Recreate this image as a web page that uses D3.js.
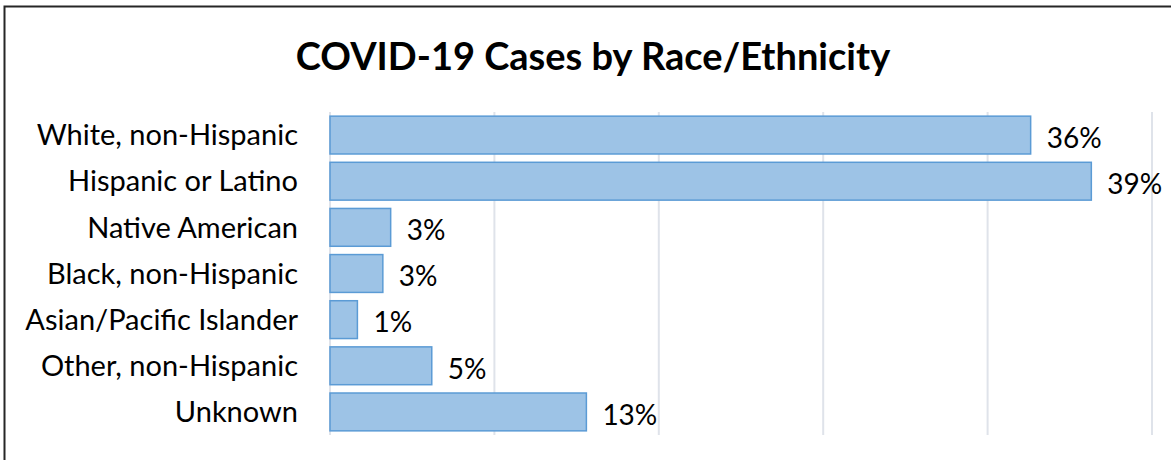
<!DOCTYPE html>
<html>
<head>
<meta charset="utf-8">
<script src="https://cdn.jsdelivr.net/npm/d3@7"></script>
<style>
  body { margin: 0; background: #fff; }
  text { font-family: Lato, "Open Sans", sans-serif; fill: #000; }
</style>
</head>
<body>
<script>
// Chart data
var categories = ['White, non-Hispanic', 'Hispanic or Latino', 'Native American',
  'Black, non-Hispanic', 'Asian/Pacific Islander', 'Other, non-Hispanic', 'Unknown'];
var values = [35.8, 38.9, 3.1, 2.7, 1.4, 5.2, 13.1];
var gridTicks = [0, 8.4, 16.8, 25.2, 33.6, 42];
var title = 'COVID-19 Cases by Race/Ethnicity';

var w = 1171;
var h = 460;

var svg = d3.select('body')
  .append('svg')
  .attr('width', w)
  .attr('height', h);

// outer frame (runs off the right and bottom edge)
svg.append('rect')
  .attr('x', 4.5)
  .attr('y', 6.5)
  .attr('width', w + 10)
  .attr('height', h + 10)
  .attr('fill', 'none')
  .attr('stroke', '#262626')
  .attr('stroke-width', 2);

var x = d3.scaleLinear().domain([0, 42]).range([330, 1152]);
var y = d3.scaleBand().domain(categories).range([112, 435]).paddingInner(0.18).paddingOuter(0.09);

// title
svg.append('text')
  .attr('x', 593)
  .attr('y', 70)
  .attr('text-anchor', 'middle')
  .attr('font-size', '38px')
  .attr('font-weight', 'bold')
  .text(title);

// gridlines
svg.selectAll('line.grid')
  .data(gridTicks)
  .enter()
  .append('line')
  .attr('class', 'grid')
  .attr('x1', function(d) { return x(d); })
  .attr('x2', function(d) { return x(d); })
  .attr('y1', 112)
  .attr('y2', 435)
  .attr('stroke', '#dfe3ea')
  .attr('stroke-width', 2);

// bars
svg.selectAll('rect.bar')
  .data(values)
  .enter()
  .append('rect')
  .attr('class', 'bar')
  .attr('x', x(0))
  .attr('y', function(d, i) { return y(categories[i]); })
  .attr('width', function(d) { return x(d) - x(0); })
  .attr('height', y.bandwidth())
  .attr('fill', '#9dc3e6')
  .attr('stroke', '#5b9bd5')
  .attr('stroke-width', 1.5);

// category labels
svg.selectAll('text.cat')
  .data(categories)
  .enter()
  .append('text')
  .attr('class', 'cat')
  .attr('x', 298)
  .attr('y', function(d) { return y(d) + y.bandwidth() / 2; })
  .attr('dy', '0.35em')
  .attr('text-anchor', 'end')
  .attr('font-size', '29px')
  .text(function(d) { return d; });

// value labels
svg.selectAll('text.val')
  .data(values)
  .enter()
  .append('text')
  .attr('class', 'val')
  .attr('x', function(d) { return x(d) + 16; })
  .attr('y', function(d, i) { return y(categories[i]) + y.bandwidth() / 2 + 3; })
  .attr('dy', '0.35em')
  .attr('font-size', '28px')
  .text(function(d) { return Math.round(d) + '%'; });
</script>
</body>
</html>
